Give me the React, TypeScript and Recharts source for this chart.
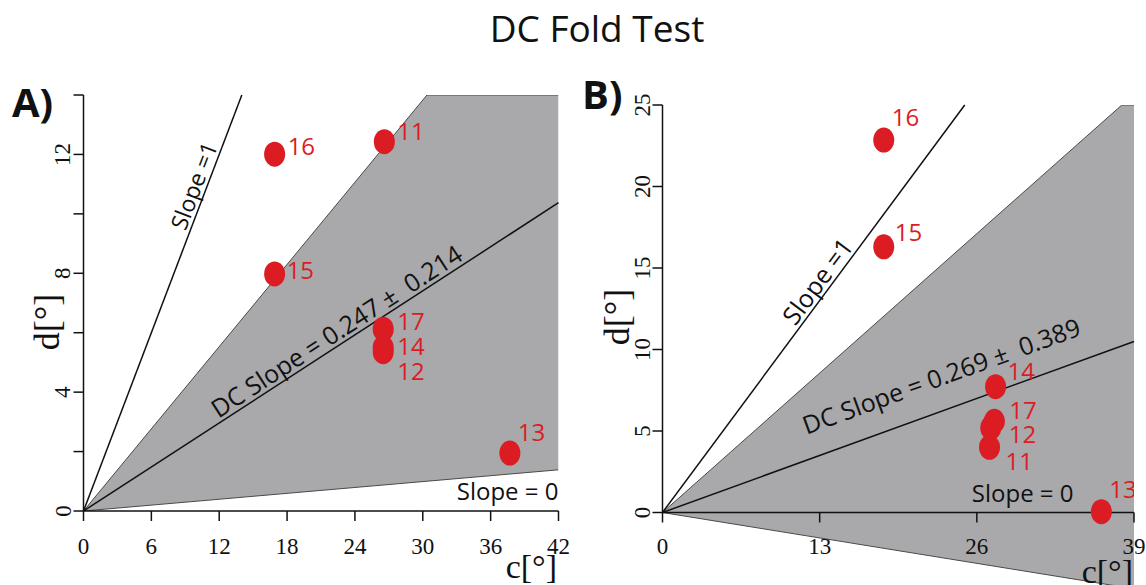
import React from 'react';
import {
  ComposedChart,
  Area,
  Scatter,
  XAxis,
  YAxis,
  ReferenceLine,
  ReferenceDot,
} from 'recharts';

const SERIF = '"Liberation Serif", "DejaVu Serif", serif';
const SANS = '"Open Sans", "Noto Sans", sans-serif';
const RED = '#dc1c23';
const GREY = '#a9a8ab';
const EDGE = '#4a4a4a';
const INK = '#111111';

// ---- Panel A: c and d per site ----
const sitesA = ['11', '12', '13', '14', '15', '16', '17'];
const cA = [26.6, 26.5, 37.7, 26.5, 16.9, 16.9, 26.5];
const dA = [12.43, 5.36, 1.95, 5.5, 7.98, 12.01, 6.12];
const dcSlopeA = 0.247;
const dcErrA = 0.214;
const xTicksA = [0, 6, 12, 18, 24, 30, 36, 42];
const yTicksA = [0, 2, 4, 6, 8, 10, 12, 14];
const yLabelsA = [0, 4, 8, 12];

// ---- Panel B: c and d per site ----
const sitesB = ['11', '12', '13', '14', '15', '16', '17'];
const cB = [27.05, 27.15, 36.3, 27.55, 18.3, 18.3, 27.45];
const dB = [4.0, 5.2, 0.05, 7.72, 16.3, 22.85, 5.6];
const dcSlopeB = 0.269;
const dcErrB = 0.389;
const xTicksB = [0, 13, 26, 39];
const yTicksB = [0, 5, 10, 15, 20, 25];
const yLabelsB = [0, 5, 10, 15, 20, 25];

// where each site number sits relative to its dot (px)
const nudgeA: Record<string, [number, number]> = {
  '11': [13, -11], '12': [14, 19], '13': [8, -22], '14': [14, -2],
  '15': [12, -4], '16': [13, -9], '17': [14, -9],
};
const nudgeB: Record<string, [number, number]> = {
  '11': [16, 13], '12': [18, 6], '13': [8, -23], '14': [12, -16],
  '15': [11, -15], '16': [8, -24], '17': [15, -12],
};

type Cfg = {
  sites: string[]; c: number[]; d: number[];
  slope: number; err: number;
  xMax: number; yMin: number; yMax: number;
  xTicks: number[]; yTicks: number[]; yLabels: number[];
  width: number; height: number;
  margin: { top: number; right: number; bottom: number; left: number };
  floatingAxis: boolean;
  nudge: Record<string, [number, number]>;
  oneAt: number; oneLift: number; oneSize: number;
  dcAt: number; dcLift: number; dcSize: number;
  zeroAt: number;
};

const Y_AXIS_W = 60;
const X_AXIS_H = 40;
const TICK_FONT = 23;

const panelA: Cfg = {
  sites: sitesA, c: cA, d: dA, slope: dcSlopeA, err: dcErrA,
  xMax: 42, yMin: 0, yMax: 14,
  xTicks: xTicksA, yTicks: yTicksA, yLabels: yLabelsA,
  width: 580, height: 585,
  margin: { top: 95, right: 21.5, bottom: 34, left: 23.5 },
  floatingAxis: false, nudge: nudgeA,
  oneAt: 10.8, oneLift: 4, oneSize: 23,
  dcAt: 23.0, dcLift: 4, dcSize: 25,
  zeroAt: 42,
};

const panelB: Cfg = {
  sites: sitesB, c: cB, d: dB, slope: dcSlopeB, err: dcErrB,
  xMax: 39, yMin: -5, yMax: 25,
  xTicks: xTicksB, yTicks: yTicksB, yLabels: yLabelsB,
  width: 566, height: 600,
  margin: { top: 105, right: 12, bottom: 6, left: 22.5 },
  floatingAxis: true, nudge: nudgeB,
  oneAt: 13.7, oneLift: 4, oneSize: 25,
  dcAt: 24.0, dcLift: 24, dcSize: 25,
  zeroAt: 34,
};

// shaded band between slope - err and slope + err, cut at the top of the frame
function wedge(cfg: Cfg) {
  const hi = cfg.slope + cfg.err;
  const lo = cfg.slope - cfg.err;
  const xTop = Math.min(cfg.xMax, cfg.yMax / hi);
  const rows = [
    { c: 0, band: [0, 0] },
    { c: xTop, band: [lo * xTop, Math.min(cfg.yMax, hi * xTop)] },
  ];
  if (xTop < cfg.xMax) rows.push({ c: cfg.xMax, band: [lo * cfg.xMax, cfg.yMax] });
  return rows;
}

function PanelChart({ cfg }: { cfg: Cfg }) {
  const plotW = cfg.width - cfg.margin.left - cfg.margin.right - Y_AXIS_W;
  const plotH = cfg.height - cfg.margin.top - cfg.margin.bottom - (cfg.floatingAxis ? 0 : X_AXIS_H);
  const pxX = plotW / cfg.xMax;
  const pxY = plotH / (cfg.yMax - cfg.yMin);
  const angOne = (Math.atan(pxY / pxX) * 180) / Math.PI;
  const angDc = (Math.atan((cfg.slope * pxY) / pxX) * 180) / Math.PI;
  const oneTop = Math.min(cfg.yMax, cfg.xMax);
  const tickLen = 10 / pxY;

  const points = cfg.sites.map((s, i) => ({ site: s, c: cfg.c[i], d: cfg.d[i] }));
  const dcText = `DC Slope = ${cfg.slope.toFixed(3)} ±\u00a0\u00a0${cfg.err.toFixed(3)}`;

  const renderPoint = (p: any) => {
    const [dx, dy] = cfg.nudge[p.payload.site] || [12, -8];
    return (
      <g>
        <ellipse cx={p.cx} cy={p.cy} rx={10.5} ry={12.5} fill={RED} />
        <text
          x={p.cx + dx}
          y={p.cy + dy}
          dominantBaseline="central"
          fontFamily={SANS}
          fontSize={24}
          fill={RED}
        >
          {p.payload.site}
        </text>
      </g>
    );
  };

  const alongLine = (text: string, ang: number, lift: number, size: number) => (p: any) => (
    <text
      transform={`translate(${p.cx},${p.cy}) rotate(${-ang})`}
      x={0}
      y={-lift}
      textAnchor="middle"
      fontFamily={SANS}
      fontSize={size}
      fill={INK}
    >
      {text}
    </text>
  );

  const YTick = (p: any) => {
    if (!cfg.yLabels.includes(p.payload.value)) return null;
    const bx = p.x - 1;
    return (
      <text
        transform={`rotate(-90 ${bx} ${p.y})`}
        x={bx}
        y={p.y}
        textAnchor="middle"
        fontFamily={SERIF}
        fontSize={TICK_FONT}
        fill={INK}
      >
        {p.payload.value}
      </text>
    );
  };

  const XTick = (p: any) => (
    <text x={p.x} y={p.y + 31} textAnchor="middle" fontFamily={SERIF} fontSize={TICK_FONT} fill={INK}>
      {p.payload.value}
    </text>
  );

  return (
    <ComposedChart
      width={cfg.width}
      height={cfg.height}
      data={wedge(cfg)}
      margin={cfg.margin}
    >
      <XAxis
        dataKey="c"
        type="number"
        domain={[0, cfg.xMax]}
        ticks={cfg.xTicks}
        hide={cfg.floatingAxis}
        height={cfg.floatingAxis ? 0 : X_AXIS_H}
        tickSize={10}
        tickMargin={2}
        axisLine={{ stroke: INK, strokeWidth: 1.5 }}
        tickLine={{ stroke: INK, strokeWidth: 1.5 }}
        tick={XTick}
        allowDataOverflow
      />
      <YAxis
        type="number"
        domain={[cfg.yMin, cfg.yMax]}
        ticks={cfg.yTicks}
        width={Y_AXIS_W}
        tickSize={10}
        tickMargin={2}
        axisLine={cfg.floatingAxis ? false : { stroke: INK, strokeWidth: 1.5 }}
        tickLine={{ stroke: INK, strokeWidth: 1.5 }}
        tick={YTick}
        interval={0}
        allowDataOverflow
      />
      <Area
        dataKey="band"
        type="linear"
        fill={GREY}
        fillOpacity={1}
        stroke={EDGE}
        strokeWidth={1}
        dot={false}
        activeDot={false}
        isAnimationActive={false}
      />
      {cfg.floatingAxis && (
        <ReferenceLine
          segment={[{ x: 0, y: 0 }, { x: 0, y: cfg.yMax }]}
          stroke={INK}
          strokeWidth={1.5}
        />
      )}
      {cfg.floatingAxis && (
        <ReferenceLine
          segment={[{ x: 0, y: 0 }, { x: cfg.xMax, y: 0 }]}
          stroke={INK}
          strokeWidth={1.5}
        />
      )}
      {cfg.floatingAxis &&
        cfg.xTicks.map((t) => (
          <ReferenceLine
            key={`t${t}`}
            segment={[{ x: t, y: 0 }, { x: t, y: -tickLen }]}
            stroke={INK}
            strokeWidth={1.5}
          />
        ))}
      {cfg.floatingAxis &&
        cfg.xTicks.map((t) => (
          <ReferenceDot
            key={`l${t}`}
            x={t}
            y={0}
            r={0}
            shape={(p: any) => (
              <text x={p.cx} y={p.cy + 41.5} textAnchor="middle" fontFamily={SERIF} fontSize={TICK_FONT} fill={INK}>
                {t}
              </text>
            )}
          />
        ))}
      <ReferenceLine
        segment={[{ x: 0, y: 0 }, { x: oneTop, y: oneTop }]}
        stroke={INK}
        strokeWidth={1.5}
      />
      <ReferenceLine
        segment={[{ x: 0, y: 0 }, { x: cfg.xMax, y: cfg.slope * cfg.xMax }]}
        stroke={INK}
        strokeWidth={1.5}
      />
      <Scatter
        data={points}
        dataKey="d"
        shape={renderPoint}
        isAnimationActive={false}
      />
      <ReferenceDot
        x={cfg.oneAt}
        y={cfg.oneAt}
        r={0}
        shape={alongLine('Slope =1', angOne, cfg.oneLift, cfg.oneSize)}
      />
      <ReferenceDot
        x={cfg.dcAt}
        y={cfg.slope * cfg.dcAt}
        r={0}
        shape={alongLine(dcText, angDc, cfg.dcLift, cfg.dcSize)}
      />
      <ReferenceDot
        x={cfg.zeroAt}
        y={0}
        r={0}
        shape={(p: any) => (
          <text x={p.cx} y={p.cy - 11} textAnchor="end" fontFamily={SANS} fontSize={24} fill={INK}>
            Slope = 0
          </text>
        )}
      />
    </ComposedChart>
  );
}

export default function App() {
  return (
    <div
      style={{
        position: 'absolute',
        left: 0,
        top: 0,
        width: 1146,
        height: 585,
        overflow: 'hidden',
        background: '#ffffff',
      }}
    >
      <div style={{ position: 'absolute', left: 0, top: 0 }}>
        <PanelChart cfg={panelA} />
      </div>
      <div style={{ position: 'absolute', left: 580, top: 0 }}>
        <PanelChart cfg={panelB} />
      </div>
      <svg
        width={1146}
        height={585}
        style={{ position: 'absolute', left: 0, top: 0, pointerEvents: 'none' }}
      >
        <text x={597} y={42} textAnchor="middle" fontFamily={SANS} fontSize={37} fill={INK}>
          DC Fold Test
        </text>
        <text x={12} y={117} fontFamily={SANS} fontWeight={700} fontSize={40} fill={INK}>
          A)
        </text>
        <text x={582} y={109} fontFamily={SANS} fontWeight={700} fontSize={40} fill={INK}>
          B)
        </text>
        <text
          transform="rotate(-90 59 322)"
          x={59}
          y={322}
          textAnchor="middle"
          fontFamily={SERIF}
          fontSize={36}
          fill={INK}
        >
          d[°]
        </text>
        <text
          transform="rotate(-90 629 317)"
          x={629}
          y={317}
          textAnchor="middle"
          fontFamily={SERIF}
          fontSize={36}
          fill={INK}
        >
          d[°]
        </text>
        <text x={557} y={578} textAnchor="end" fontFamily={SERIF} fontSize={34} fill={INK}>
          c[°]
        </text>
        <text x={1133} y={583} textAnchor="end" fontFamily={SERIF} fontSize={34} fill={INK}>
          c[°]
        </text>
      </svg>
    </div>
  );
}
